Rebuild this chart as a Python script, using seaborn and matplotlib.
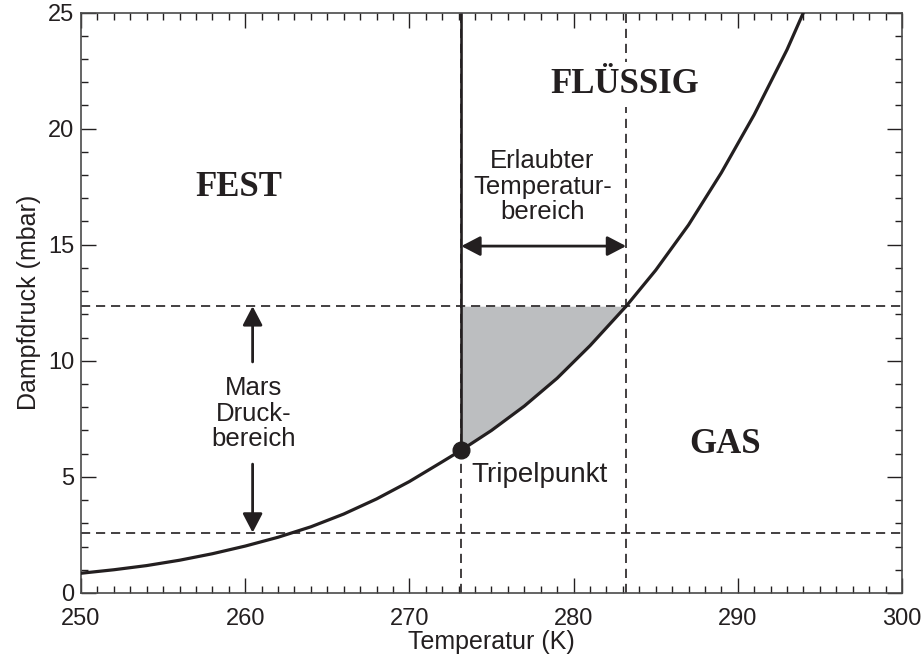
import matplotlib
matplotlib.use("Agg")
import matplotlib.pyplot as plt
from matplotlib.ticker import MultipleLocator
import pandas as pd
import seaborn as sns

# Saturation vapour pressure of water (mbar) vs temperature (K)
temperature = [250.0, 252.0, 254.0, 256.0, 258.0, 260.0, 262.0, 264.0, 266.0, 268.0,
               270.0, 272.0, 273.16, 275.0, 277.0, 279.0, 281.0, 283.2, 285.0, 287.0,
               289.0, 291.0, 293.0, 294.0]
pressure = [0.85, 1.00, 1.18, 1.41, 1.69, 2.02, 2.40, 2.85, 3.40, 4.05,
            4.80, 5.65, 6.15, 7.00, 8.05, 9.25, 10.65, 12.35, 13.90, 15.85,
            18.10, 20.60, 23.40, 25.0]

triple_point = (273.16, 6.15)
mars_pressure_range = [2.6, 12.35]
allowed_temperature_range = [273.16, 283.2]

region_labels = ["FEST", "FLÜSSIG", "GAS"]
region_positions = [(259.6, 17.45), (283.1, 21.9), (289.2, 6.4)]

x_ticks = [250, 260, 270, 280, 290, 300]
y_ticks = [0, 5, 10, 15, 20, 25]

ink = "#231f20"

sns.set_theme(style="ticks")
plt.rcParams["font.family"] = ["Liberation Sans", "DejaVu Sans"]

fig = plt.figure(figsize=(9.23, 6.55), dpi=100)
ax = fig.add_axes([0.0878, 0.0947, 0.8894, 0.8862])

df = pd.DataFrame({"T": temperature, "p": pressure})

# shaded window where liquid water is possible on Mars
mask = (df["T"] >= allowed_temperature_range[0]) & (df["T"] <= allowed_temperature_range[1])
sub = df[mask]
ax.fill_between(sub["T"], sub["p"], mars_pressure_range[1], color="#bcbec0", lw=0, zorder=1)

# dashed guide lines
dash = dict(color=ink, lw=1.2, ls=(0, (5.5, 3.5)), zorder=2)
for yv in mars_pressure_range:
    ax.axhline(yv, **dash)
for xv in allowed_temperature_range:
    ax.axvline(xv, **dash)

# melting line (solid above the triple point)
ax.plot([triple_point[0], triple_point[0]], [triple_point[1], 25], color=ink, lw=1.9, zorder=3,
        solid_capstyle="butt")

# vapour pressure curve
sns.lineplot(data=df, x="T", y="p", ax=ax, color=ink, lw=2.3, zorder=4)

# triple point marker
ax.plot([triple_point[0]], [triple_point[1]], "o", color=ink, ms=12, zorder=5)

ax.set_xlim(250, 300)
ax.set_ylim(0, 25)
ax.set_xticks(x_ticks)
ax.set_yticks(y_ticks)
ax.xaxis.set_minor_locator(MultipleLocator(1))
ax.yaxis.set_minor_locator(MultipleLocator(1))
ax.tick_params(which="both", direction="in", top=True, right=True, colors=ink, width=1.0)
ax.tick_params(which="major", length=11, labelsize=17)
ax.tick_params(which="minor", length=5)
ax.tick_params(axis="x", which="major", pad=11)
ax.tick_params(axis="y", which="major", pad=5)
for s in ax.spines.values():
    s.set_color("#4a4a4a")
    s.set_linewidth(1.2)

ax.set_xlabel("Temperatur (K)", fontsize=18, color=ink, labelpad=0)
ax.set_ylabel("Dampfdruck (mbar)", fontsize=18, color=ink, labelpad=5)

# region names
for name, (xv, yv) in zip(region_labels, region_positions):
    t = ax.text(xv, yv, name, ha="center", va="center", fontsize=25, fontweight="bold",
                family=["Liberation Serif", "DejaVu Serif"], color=ink, zorder=6)
    if name == "FLÜSSIG":
        t.set_bbox(dict(facecolor="white", edgecolor="none", pad=4))

ax.text(273.75, 4.78, "Tripelpunkt", ha="left", va="baseline", fontsize=20, color=ink, zorder=6)
ax.text(278.1, 17.5, "Erlaubter\nTemperatur-\nbereich", ha="center", va="center",
        fontsize=18.5, color=ink, linespacing=1.08, zorder=6)
ax.text(260.5, 7.72, "Mars\nDruck-\nbereich", ha="center", va="center",
        fontsize=18.5, color=ink, linespacing=1.08, zorder=6)

arrow_style = "-|>,head_length=1.15,head_width=0.6"
double_style = "<|-|>,head_length=1.15,head_width=0.6"
arrow_kw = dict(color=ink, lw=2.0, shrinkA=0, shrinkB=0, mutation_scale=10)

ax.annotate("", xy=(allowed_temperature_range[0], 14.94), xytext=(allowed_temperature_range[1], 14.94),
            arrowprops=dict(arrowstyle=double_style, **arrow_kw), zorder=6)
ax.annotate("", xy=(260.45, mars_pressure_range[1]), xytext=(260.45, 9.95),
            arrowprops=dict(arrowstyle=arrow_style, **arrow_kw), zorder=6)
ax.annotate("", xy=(260.45, mars_pressure_range[0]), xytext=(260.45, 5.55),
            arrowprops=dict(arrowstyle=arrow_style, **arrow_kw), zorder=6)

fig.savefig("out.png", dpi=100)
